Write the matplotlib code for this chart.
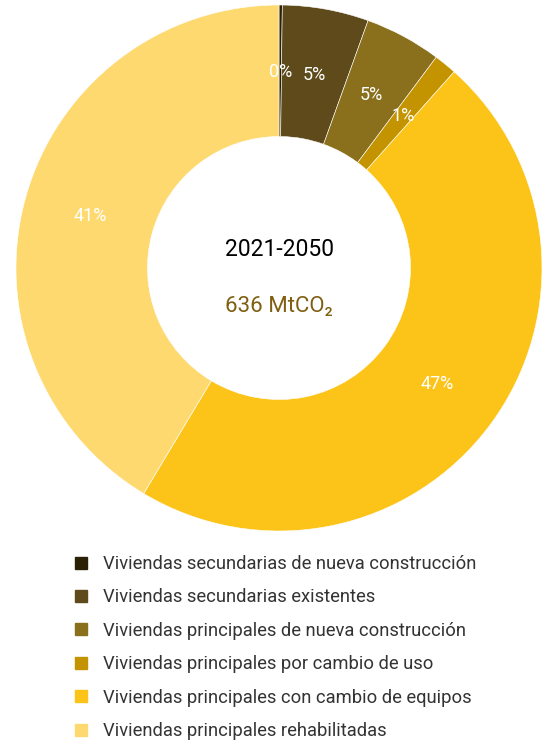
import numpy as np
import matplotlib.pyplot as plt
from matplotlib.lines import Line2D

plt.rcParams['font.family'] = ['Roboto', 'DejaVu Sans']

# Emisiones 2021-2050 por tipo de vivienda (%)
categorias = [
    "Viviendas secundarias de nueva construcción",
    "Viviendas secundarias existentes",
    "Viviendas principales de nueva construcción",
    "Viviendas principales por cambio de uso",
    "Viviendas principales con cambio de equipos",
    "Viviendas principales rehabilitadas",
]
porcentajes = [0.2, 5.3, 4.7, 1.4, 47.0, 41.4]
colores = ["#2a2005", "#5e4a1a", "#8a701c", "#c39400", "#fcc419", "#fdd970"]
periodo = "2021-2050"
total = "636 MtCO₂"

fig = plt.figure(figsize=(5.47, 7.46), dpi=100)
ax = fig.add_axes([16 / 547, 215 / 746, 526 / 547, 526 / 746])

wedges, _, autotexts = ax.pie(
    porcentajes, colors=colores, startangle=90, counterclock=False,
    radius=1, autopct='%.0f%%', pctdistance=0.745,
    wedgeprops=dict(width=0.5, edgecolor='white', linewidth=0.4),
    textprops=dict(color='white', fontsize=13))
ax.set_xlim(-1, 1)
ax.set_ylim(-1, 1)
ax.set_aspect('equal')

ax.text(0, 0.07, periodo, ha='center', va='center', fontsize=16.5, color='black')
ax.text(0, -0.145, total, ha='center', va='center', fontsize=16, color='#7f5f10')

handles = [Line2D([], [], marker='s', linestyle='none', markersize=9,
                  markerfacecolor=c, markeredgecolor=c) for c in colores]
fig.legend(handles, categorias, loc='upper left', bbox_to_anchor=(72 / 547, 1 - 555 / 746),
           frameon=False, fontsize=13.2, labelspacing=0.84, handlelength=1.0,
           handletextpad=0.7, borderaxespad=0, borderpad=0, labelcolor='#333333')

fig.savefig("out.png", dpi=100)
